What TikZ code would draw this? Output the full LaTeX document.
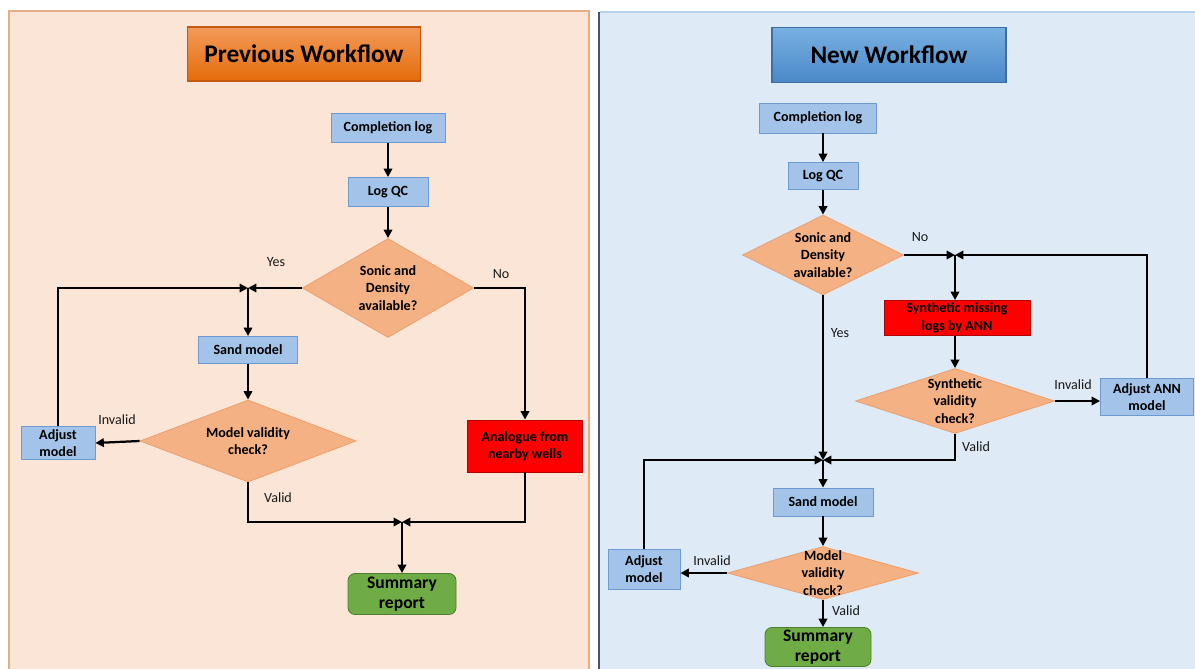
\documentclass[tikz,border=0pt]{standalone}
\usepackage{fontspec}
\setmainfont{Carlito}
\usepackage{tikz}
\usetikzlibrary{shapes.geometric,arrows.meta}

\definecolor{peach}{HTML}{FBE5D6}
\definecolor{peachline}{HTML}{E3AE88}
\definecolor{sky}{HTML}{DEEBF7}
\definecolor{skyline}{HTML}{B4D2EE}
\definecolor{navy}{HTML}{44546A}
\definecolor{boxfill}{HTML}{A3C4E8}
\definecolor{boxline}{HTML}{6D9AD0}
\definecolor{diafill}{HTML}{F4B183}
\definecolor{dialine}{HTML}{EDA06E}
\definecolor{redline}{HTML}{B00000}
\definecolor{greenfill}{HTML}{6FAC46}
\definecolor{greenline}{HTML}{4E7E2F}
\definecolor{orangetop}{HTML}{F39A5A}
\definecolor{orangebot}{HTML}{E46C0A}
\definecolor{orangeline}{HTML}{C65911}
\definecolor{bluetop}{HTML}{78B0E2}
\definecolor{bluebot}{HTML}{4A88C7}
\definecolor{blueline}{HTML}{3D6FA3}

\begin{document}
\begin{tikzpicture}[x=0.025cm,y=-0.025cm,
    boxsize/.style 2 args={minimum width=#1*0.025cm,minimum height=#2*0.025cm},
    txt/.style={align=center,font=\bfseries\fontsize{10}{12.5}\selectfont},
    proc/.style={txt,draw=boxline,fill=boxfill,line width=0.6pt,inner sep=0pt},
    test/.style={txt,diamond,draw=dialine,fill=diafill,line width=0.6pt,inner sep=0pt},
    alert/.style={txt,draw=redline,fill=red,line width=0.6pt,inner sep=0pt},
    report/.style={draw=greenline,fill=greenfill,line width=0.6pt,inner sep=0pt,rounded corners=5pt,
        align=center,font=\bfseries\fontsize{12.5}{14.5}\selectfont},
    heading/.style={line width=0.8pt,inner sep=0pt,font=\bfseries\fontsize{18}{22}\selectfont},
    lbl/.style={text=black!90,font=\fontsize{10}{12}\selectfont},
    arr/.style={line width=1.6pt,-{Triangle[length=6pt,width=6pt]}}]

    \useasboundingbox (0,0) rectangle (1195,669);

    % panels
    \fill[peach] (9,11) rectangle (589,672);
    \draw[peachline,line width=0.8pt] (9,672) -- (9,11) -- (589,11) -- (589,672);
    \fill[sky] (600,12) rectangle (1198,672);
    \draw[skyline,line width=0.8pt] (600,12) -- (1198,12);
    \draw[navy,line width=1.5pt] (599,12) -- (599,672);

    \node[heading,draw=orangeline,top color=orangetop,bottom color=orangebot,boxsize={233}{54}] (prevT) at (304,54) {Previous Workflow};
    \node[heading,draw=blueline,top color=bluetop,bottom color=bluebot,boxsize={234}{55}] (newT) at (889,55) {New Workflow};

    % previous workflow
    \node[proc,boxsize={114}{29}] (compL) at (388,128) {Completion log};
    \node[proc,boxsize={80}{29}] (qcL) at (388,192) {Log QC};
    \node[test,aspect=1.7,boxsize={171}{99}] (sonicL) at (388,288) {Sonic and\\Density\\available?};
    \node[proc,boxsize={99}{27}] (sandL) at (248,350) {Sand model};
    \node[test,aspect=2.6,boxsize={216}{82}] (validL) at (248,441) {Model validity\\check?};
    \node[proc,boxsize={74}{33}] (adjL) at (58,443) {Adjust\\model};
    \node[alert,boxsize={115}{52}] (anaL) at (525,446) {Analogue from\\nearby wells};
    \node[report,boxsize={108}{41}] (sumL) at (402,594) {Summary\\report};
    \coordinate (jYesL) at (248,288);
    \coordinate (jSumL) at (402,522);

    \node[lbl] (yesL) at (276,262) {Yes};
    \node[lbl] (noL) at (501,274) {No};
    \node[lbl] (invL) at (117,420) {Invalid};
    \node[lbl] (valL) at (278,498) {Valid};

    \draw[arr] (compL) -- (qcL);
    \draw[arr] (qcL) -- (sonicL);
    \draw[arr] (sonicL.west) -- (jYesL);
    \draw[arr] (adjL.north) |- (jYesL);
    \draw[arr] (jYesL) -- (sandL);
    \draw[arr] (sandL) -- (validL);
    \draw[arr] (validL.west) -- (adjL.east);
    \draw[arr] (sonicL.east) -| (anaL.north);
    \draw[arr] (validL.south) |- (jSumL);
    \draw[arr] (anaL.south) |- (jSumL);
    \draw[arr] (jSumL) -- (sumL);

    % new workflow
    \node[proc,boxsize={117}{30}] (compR) at (818,118) {Completion log};
    \node[proc,boxsize={70}{27}] (qcR) at (823,176) {Log QC};
    \node[test,aspect=2,boxsize={161}{80}] (sonicR) at (823,255) {Sonic and\\Density\\available?};
    \node[alert,boxsize={146}{35}] (synR) at (957,318) {Synthetic missing\\logs by ANN};
    \node[test,aspect=3,boxsize={199}{65}] (synV) at (955,401) {Synthetic\\validity\\check?};
    \node[proc,boxsize={93}{37}] (adjANN) at (1147,397) {Adjust ANN\\model};
    \node[proc,boxsize={100}{28}] (sandR) at (823,502) {Sand model};
    \node[test,aspect=3.6,boxsize={191}{53},label={[txt]center:Model\\validity\\check?}] (modvR) at (823,573) {};
    \node[proc,boxsize={72}{40}] (adjR) at (644,569) {Adjust\\model};
    \node[report,boxsize={106}{39}] (sumR) at (818,647) {Summary\\report};
    \coordinate (jNoR) at (955,255);
    \coordinate (jR) at (823,460);

    \node[lbl] (noR) at (920,237) {No};
    \node[lbl] (yesR) at (840,333) {Yes};
    \node[lbl] (invANN) at (1073,385) {Invalid};
    \node[lbl] (valANN) at (976,447) {Valid};
    \node[lbl] (invR) at (712,561) {Invalid};
    \node[lbl] (valR) at (846,611) {Valid};

    \draw[arr] (compR.south -| qcR.north) -- (qcR);
    \draw[arr] (qcR) -- (sonicR);
    \draw[arr] (sonicR.east) -- (jNoR);
    \draw[arr] (adjANN.north) |- (jNoR);
    \draw[arr] (jNoR) -- (jNoR |- synR.north);
    \draw[arr] (synR.south -| synV.north) -- (synV);
    \draw[arr] (synV.east) -- (synV.east -| adjANN.west);
    \draw[arr] (synV.south) |- (jR);
    \draw[arr] (sonicR.south) -- (jR);
    \draw[arr] (adjR.north) |- (jR);
    \draw[arr] (jR) -- (sandR);
    \draw[arr] (sandR) -- (modvR);
    \draw[arr] (modvR.west) -- (modvR.west -| adjR.east);
    \draw[arr] (modvR.south) -- (modvR.south |- sumR.north);
\end{tikzpicture}
\end{document}
